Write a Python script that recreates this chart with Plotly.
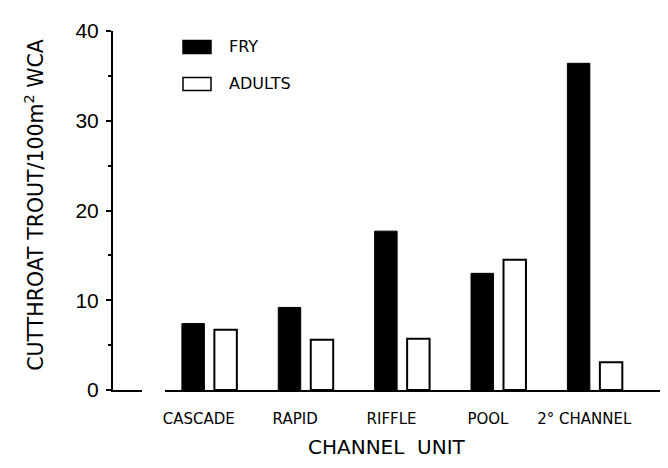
import plotly.graph_objects as go

categories = ["CASCADE", "RAPID", "RIFFLE", "POOL", "2° CHANNEL"]
fry = [7.4, 9.2, 17.7, 13.0, 36.4]
adults = [6.7, 5.6, 5.7, 14.5, 3.1]
y_ticks = [0, 10, 20, 30, 40]
y_minor = [5, 15, 25, 35]

xpos = list(range(len(categories)))
label_shift = -0.11

fig = go.Figure()
fig.add_trace(go.Bar(x=xpos, y=fry, name="FRY", width=0.233, offset=-0.285,
                     marker=dict(color="black", line=dict(color="black", width=1))))
fig.add_trace(go.Bar(x=xpos, y=adults, name="ADULTS", width=0.233, offset=0.052,
                     marker=dict(color="white", line=dict(color="black", width=2))))

num_font = "Liberation Sans, Arial, sans-serif"
txt_font = "DejaVu Sans, sans-serif"

L, R, T, B = 105, 5, 23, 468 - 382.5
PW, PH = 668 - L - R, 468 - T - B

fig.update_layout(
    width=668, height=468,
    margin=dict(l=L, r=R, t=T, b=B),
    paper_bgcolor="white", plot_bgcolor="white",
    showlegend=False,
    barmode="overlay",
    font=dict(family=txt_font, color="black"),
    xaxis=dict(
        range=[-1.0, 4.79], tickmode="array",
        tickvals=[p + label_shift for p in xpos], ticktext=categories,
        showline=True, linecolor="black", linewidth=2, ticks="", showgrid=False,
        zeroline=False, tickfont=dict(size=15, family=txt_font), ticklabelstandoff=14,
        automargin=False,
    ),
    yaxis=dict(
        range=[0, 40], tickmode="array", tickvals=y_ticks,
        showline=True, linecolor="black", linewidth=2, ticks="outside", ticklen=5,
        tickwidth=1.5, tickcolor="black", showgrid=False, zeroline=False,
        tickfont=dict(size=21, family=num_font), ticklabelstandoff=3,
        minor=dict(tickvals=y_minor, ticks="outside", ticklen=3, tickcolor="black", tickwidth=1.5),
        automargin=False,
    ),
)

def px_x(x):
    return (x - L) / PW

def px_y(y):
    return (468 - B - y) / PH

# axis titles
fig.add_annotation(xref="paper", yref="paper", x=px_x(27), y=px_y(197),
                   text="CUTTHROAT TROUT/100m<sup>2</sup> WCA", textangle=-90,
                   showarrow=False, xanchor="center", yanchor="middle",
                   font=dict(size=20.5, family=txt_font, color="black"))
fig.add_annotation(xref="paper", yref="paper", x=px_x(379), y=px_y(440),
                   text="CHANNEL  UNIT", showarrow=False, xanchor="center", yanchor="middle",
                   font=dict(size=20, family=txt_font, color="black"))

# small break in the baseline, as in the original
fig.add_shape(type="rect", xref="paper", yref="paper", x0=px_x(134), x1=px_x(157),
              y0=px_y(385), y1=px_y(380), fillcolor="white", line=dict(width=0), layer="above")

# legend drawn as shapes + text
legend_items = [("FRY", "black", 39), ("ADULTS", "white", 76)]
for label, color, yc in legend_items:
    fig.add_shape(type="rect", xref="paper", yref="paper",
                  x0=px_x(175), x1=px_x(203),
                  y0=px_y(yc + 6.5), y1=px_y(yc - 6.5),
                  fillcolor=color, line=dict(color="black", width=1.5))
    fig.add_annotation(xref="paper", yref="paper", x=px_x(219), y=px_y(yc),
                       text=label, showarrow=False, xanchor="left", yanchor="middle",
                       font=dict(size=16, family=txt_font, color="black"))

fig.write_html("out.html")
